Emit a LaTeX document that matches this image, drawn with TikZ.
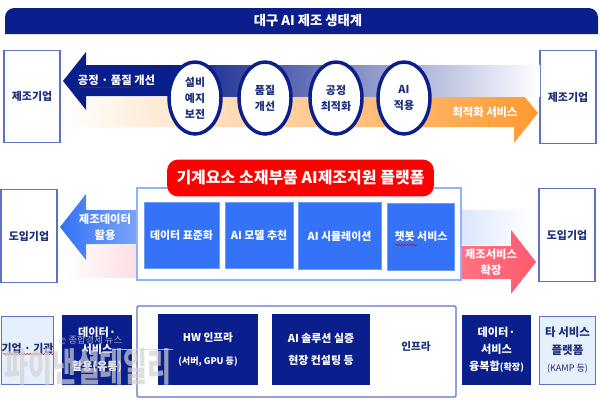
\documentclass[tikz,border=0pt]{standalone}
\usepackage{fontspec}
\setmainfont{Noto Sans CJK KR}
\usetikzlibrary{shapes.geometric,decorations.pathmorphing}
\definecolor{navy}{HTML}{0A1E8C}
\definecolor{bright}{HTML}{3473F8}
\definecolor{edgeblue}{HTML}{5D72C4}
\definecolor{pale}{HTML}{E6EFFC}
\definecolor{inktext}{HTML}{1C2F7A}
\definecolor{amber}{HTML}{FF9A30}
\definecolor{coral}{HTML}{FF5A6E}
\tikzset{
 firm/.style={draw=edgeblue,line width=0.9pt,fill=white,minimum width=42pt,minimum height=69.5pt,text=inktext,inner sep=0pt,font=\bfseries\fontsize{8.2}{8.2}\selectfont},
 orb/.style={ellipse,draw=navy,line width=2.6pt,fill=white,minimum width=39pt,minimum height=54pt,inner sep=0pt,align=center,text=inktext,font=\bfseries\fontsize{8.2}{12}\selectfont},
 card/.style={fill=bright,draw=bright!70!white,line width=0.4pt,text=white,inner sep=0pt,align=center,font=\bfseries\fontsize{8.2}{9}\selectfont},
 dark/.style={fill=navy,text=white,inner sep=0pt,align=center,font=\bfseries\fontsize{8.4}{12.8}\selectfont},
 paper/.style={fill=pale,draw=edgeblue,line width=0.7pt,text=inktext,inner sep=0pt,align=center,font=\bfseries\fontsize{8.2}{12.5}\selectfont},
 squig/.style={draw=red!80!black,line width=0.4pt,decorate,decoration={snake,amplitude=0.35pt,segment length=2.2pt}},
 lbl/.style={text=white,inner sep=0pt,align=center,font=\bfseries\fontsize{8.5}{12}\selectfont}
}
\begin{document}
\begin{tikzpicture}[x=0.75pt,y=-0.75pt]
\useasboundingbox (0,0) rectangle (600,400);
\fill[white] (0,0) rectangle (600,400);
% title
\fill[navy,rounded corners=7pt] (5,34) -- (5,8) -- (598,8) -- (598,34);
\fill[navy] (5,24) rectangle (598,34);
\node[text=white,inner sep=0pt,font=\bfseries\fontsize{10}{10}\selectfont] (title) at (308,20.5) {대구 AI 제조 생태계};
% firms top
\node[firm] (mfgL) at (32,96.5) {제조기업};
\node[firm] (mfgR) at (568,97) {제조기업};
% top bands and arrows
\shade[left color=white,right color=amber] (65,97) -- (514,97) -- (514,84) -- (538,113) -- (514,143) -- (514,127) -- (65,127) -- cycle;
\shade[left color=navy,right color=white] (170,65) rectangle (540,96);
\fill[navy] (63,81) -- (86,52) -- (86,65) -- (171,65) -- (171,96) -- (86,96) -- (86,110) -- cycle;
\node[lbl] (arrL) at (116.5,80) {공정 · 품질 개선};
\node[lbl] (arrR) at (485,112) {최적화 서비스};
\draw[squig] (79,87.5) -- (131,87.5);
% ellipses
\node[orb] (o1) at (195,98) {설비\\예지\\보전};
\node[orb] (o2) at (265,98) {품질\\개선};
\node[orb] (o3) at (336,98) {공정\\최적화};
\node[orb] (o4) at (404,98) {AI\\적용};
% middle firms
\node[firm] (intL) at (29,236) {도입기업};
\node[firm] (intR) at (567,235) {도입기업};
% mid left arrow + band
\shade[left color=white,right color=coral!20!white] (65,245) rectangle (137,277);
\shade[left color=bright,right color=bright!65!white] (60,227) -- (86,194) -- (86,210) -- (137,210) -- (137,244) -- (86,244) -- (86,260) -- cycle;
\node[lbl] (arrML) at (105,227) {제조데이터\\활용};
% mid right band + arrow
\shade[left color=bright!18!white,right color=white] (461,210) rectangle (530,244);
\shade[left color=coral!85!white,right color=coral] (461,246) -- (511,246) -- (511,230) -- (536,262) -- (511,294) -- (511,279) -- (461,279) -- cycle;
\node[lbl] (arrMR) at (491,262) {제조서비스\\확장};
% platform
\draw[draw=bright!55!white,line width=0.9pt,fill=white] (137,188) rectangle (461,280);
\node[fill=red,rounded corners=8pt,minimum width=200pt,minimum height=27.5pt,text=white,inner sep=0pt,font=\bfseries\fontsize{12}{12}\selectfont] (banner) at (300.5,178) {기계요소 소재부품 AI제조지원 플랫폼};
\node[card,minimum width=56.2pt,minimum height=49.5pt] (c1) at (181.5,235.5) {데이터 표준화};
\node[card,minimum width=51pt,minimum height=49.5pt] (c2) at (259,235.5) {AI 모델 추천};
\node[card,minimum width=62.2pt,minimum height=50pt] (c3) at (339.5,236) {AI 시뮬레이션};
\node[card,minimum width=50.5pt,minimum height=50pt] (c4) at (421,236.5) {챗봇 서비스};
\draw[squig] (395,245) -- (417,245);
% bottom row
\node[paper,minimum width=39.5pt,minimum height=51pt] (org) at (27.5,350) {\raisebox{3.5pt}{기업 · 기관}};
\draw[squig] (3,354) -- (54,354);
\node[dark,minimum width=52.5pt,minimum height=52.5pt] (use) at (97,350) {\raisebox{2pt}{데이터·}\\\raisebox{2pt}{서비스}\\\raisebox{2pt}{활용(유통)}};
\draw[draw=edgeblue,line width=0.9pt,fill=white,rounded corners=1pt] (137,306) rectangle (456,397);
\node[dark,minimum width=75pt,minimum height=53.2pt,font=\bfseries\fontsize{8}{17}\selectfont] (hw) at (208,349.5) {HW 인프라\\{\fontsize{6.8}{17}\selectfont (서버, GPU 등)}};
\node[dark,minimum width=73.5pt,minimum height=53.2pt,font=\bfseries\fontsize{8.2}{17}\selectfont] (sol) at (321,349.5) {AI 솔루션 실증\\현장 컨설팅 등};
\node[text=inktext,inner sep=0pt,font=\bfseries\fontsize{8}{8}\selectfont] (inf) at (416,347) {인프라};
\node[dark,minimum width=52pt,minimum height=52.5pt] (mix) at (496.5,350) {데이터·\\서비스\\융복합{\fontsize{6.8}{10}\selectfont (확장)}};
\node[paper,minimum width=42.5pt,minimum height=51.5pt,text=inktext,font=\bfseries\fontsize{8.6}{12.8}\selectfont] (other) at (567.5,350.5) {\raisebox{2pt}{타 서비스}\\\raisebox{2pt}{플랫폼}\\\raisebox{2pt}{{\fontsize{6.8}{10}\selectfont\mdseries (KAMP 등)}}};
% watermark
\node[text=gray!35!white,opacity=0.7,inner sep=0pt,yscale=1.5,font=\bfseries\fontsize{19.5}{19.5}\selectfont] (wmBig) at (88,367) {파이낸셜데일리};
\node[text=gray!40!white,opacity=0.8,inner sep=0pt,font=\fontsize{7}{7}\selectfont] (wmSmall) at (90,340) {는 종합경제 뉴스};
\draw[gray!30!white,opacity=0.8,line width=0.6pt] (113,349.5) -- (173,349.5);
\end{tikzpicture}
\end{document}
